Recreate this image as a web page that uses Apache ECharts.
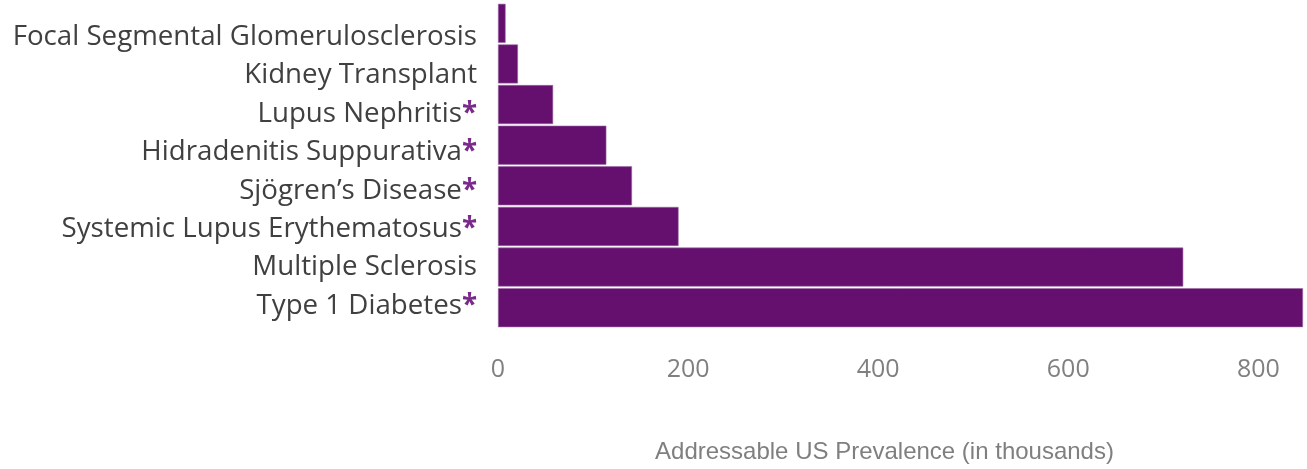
<!DOCTYPE html>
<html>
<head>
<meta charset="utf-8">
<script src="https://cdn.jsdelivr.net/npm/echarts@6/dist/echarts.min.js"></script>
<style>
  html, body { margin: 0; padding: 0; background: #fff; }
  #main { width: 1307px; height: 469px; }
</style>
</head>
<body>
<div id="main"></div>
<script>
var categories = [
  'Focal Segmental Glomerulosclerosis',
  'Kidney Transplant',
  'Lupus Nephritis*',
  'Hidradenitis Suppurativa*',
  'Sjögren’s Disease*',
  'Systemic Lupus Erythematosus*',
  'Multiple Sclerosis',
  'Type 1 Diabetes*'
];
var prevalence = [8, 21, 58, 114, 141, 190, 721, 847];
var xTicks = [0, 200, 400, 600, 800];

var chartDom = document.getElementById('main');
var myChart = echarts.init(chartDom);
var option;

option = {
  animation: false,
  grid: [
    // bars
    { left: 498, right: 4, top: 3, bottom: 140 },
    // category labels sit on a slightly tighter spacing than the bars
    { left: 498, right: 4, top: 18, bottom: 144 }
  ],
  xAxis: [
    {
      type: 'value',
      gridIndex: 0,
      min: xTicks[0],
      max: 'dataMax',
      interval: xTicks[1] - xTicks[0],
      axisLine: { show: false },
      axisTick: { show: false },
      splitLine: { show: false },
      axisLabel: {
        margin: 29,
        color: '#808080',
        fontSize: 25,
        fontFamily: 'Open Sans',
        showMaxLabel: false
      },
      name: 'Addressable US Prevalence (in thousands)',
      nameLocation: 'middle',
      nameGap: 112,
      nameTextStyle: {
        color: '#7f7f7f',
        fontSize: 24,
        fontFamily: 'Liberation Sans',
        padding: [0, 32, 0, 0]
      }
    },
    {
      type: 'value',
      gridIndex: 1,
      show: false
    }
  ],
  yAxis: [
    {
      type: 'category',
      gridIndex: 0,
      inverse: true,
      data: categories,
      axisLine: { show: false },
      axisTick: { show: false },
      axisLabel: { show: false }
    },
    {
      type: 'category',
      gridIndex: 1,
      inverse: true,
      data: categories,
      axisLine: { show: false },
      axisTick: { show: false },
      axisLabel: {
        margin: 21,
        color: '#404040',
        fontSize: 27.7,
        fontFamily: 'Open Sans',
        formatter: function (name) {
          if (name.slice(-1) === '*') {
            return name.slice(0, -1) + '{star|*}';
          }
          return name;
        },
        rich: {
          star: {
            color: '#7b2a8c',
            fontSize: 27.7,
            fontWeight: 'bold',
            fontFamily: 'Open Sans'
          }
        }
      }
    }
  ],
  series: [
    {
      name: 'Prevalence',
      type: 'bar',
      xAxisIndex: 0,
      yAxisIndex: 0,
      data: prevalence,
      barCategoryGap: '4%',
      itemStyle: {
        color: '#65106f',
        borderColor: '#9b6aa3',
        borderWidth: 0.6
      }
    }
  ]
};

option && myChart.setOption(option);
</script>
</body>
</html>
